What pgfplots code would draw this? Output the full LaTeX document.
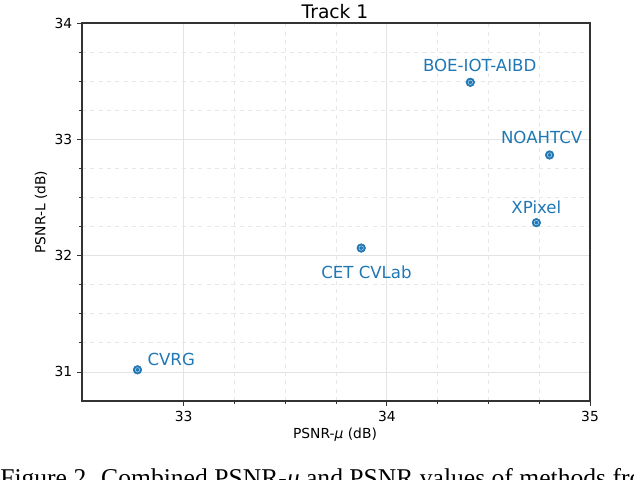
\documentclass[border=0pt]{standalone}
\usepackage{fontspec}
\setmainfont{DejaVu Sans}
\newfontfamily\capfont{Liberation Serif}
\usepackage{pgfplots}
\usepackage{pgfplotstable}
\pgfplotsset{compat=1.18}
\definecolor{mplblue}{RGB}{31,119,180}

% team results, Track 1
\pgfplotstableread{
x      y
34.411 33.490
34.801 32.865
34.736 32.283
33.874 32.065
32.773 31.018
}\teams

\begin{document}
\begin{tikzpicture}[x=0.72bp,y=0.72bp]
\useasboundingbox (0,0) rectangle (634,480);
\begin{axis}[
    at={(59.04bp,56.88bp)}, anchor=south west,
    scale only axis, width=365.76bp, height=272.16bp,
    xmin=32.5, xmax=35, ymin=30.75, ymax=34,
    xtick={33,34,35}, ytick={31,32,33,34},
    minor x tick num=3, minor y tick num=3,
    xtick pos=left, ytick pos=left,
    tick align=outside,
    major tick length=3.5bp, minor tick length=2bp,
    every tick/.style={black!80, line width=0.6pt},
    grid=both,
    major grid style={gray!22, line width=0.6pt},
    minor grid style={gray!18, dashed, line width=0.5pt},
    axis line style={black!80, line width=0.8pt},
    tick label style={font=\fontsize{10}{12}\selectfont},
    /pgf/number format/assume math mode=true,
    clip=false,
]
\addplot[only marks, mark=*, mark size=3.1bp,
    mark options={fill=mplblue, draw=mplblue}] table[x=x, y=y] {\teams};
\addplot[only marks, mark=o, mark size=1.6bp,
    mark options={draw=white!65!mplblue, line width=0.4bp}] table[x=x, y=y] {\teams};

\begin{scope}[every node/.style={anchor=base, text=mplblue, font=\fontsize{12}{14}\selectfont, inner sep=0}]
\node at (axis cs:34.457,33.587) {BOE-IOT-AIBD};
\node at (axis cs:34.762,32.960) {NOAHTCV};
\node at (axis cs:34.736,32.358) {XPixel};
\node at (axis cs:33.900,31.807) {CET CVLab};
\node at (axis cs:32.939,31.051) {CVRG};
\end{scope}
\end{axis}

\node[anchor=base, font=\fontsize{13.5}{16}\selectfont, inner sep=0] at (335,461) {Track 1};
\node[anchor=base, font=\fontsize{10}{12}\selectfont, inner sep=0] at (335,41) {PSNR-\textit{μ} (dB)};
\node[rotate=90, font=\fontsize{10}{12}\selectfont, inner sep=0] at (41,268) {PSNR-L (dB)};
\node[anchor=base west, font=\capfont\fontsize{18.5}{21}\selectfont, inner sep=0] at (0,-7)
    {Figure 2. Combined PSNR-\textit{μ} and PSNR values of methods from Track 1.};
\end{tikzpicture}
\end{document}
